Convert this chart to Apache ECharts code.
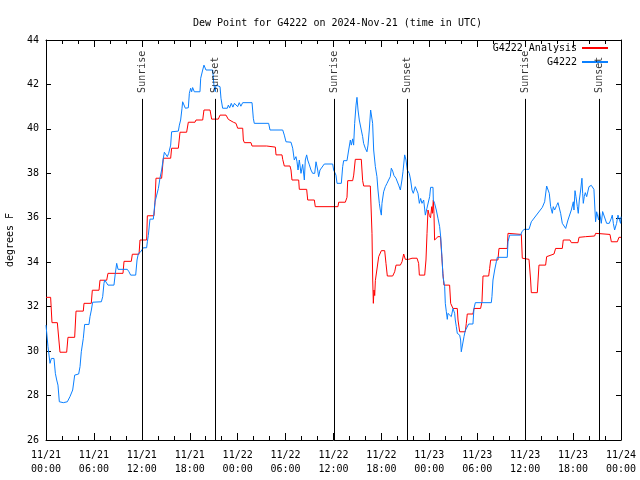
<!DOCTYPE html>
<html>
<head>
<meta charset="utf-8">
<script src="https://cdn.jsdelivr.net/npm/echarts@6/dist/echarts.min.js"></script>
<style>html,body{margin:0;padding:0;background:#fff;}#c{width:640px;height:480px;}</style>
</head>
<body>
<div id="c"></div>
<script>
// Hours since 2024-11-21 00:00 UTC
const tickDates = ['11/21','11/21','11/21','11/21','11/22','11/22','11/22','11/22','11/23','11/23','11/23','11/23','11/24'];
const tickTimes = ['00:00','06:00','12:00','18:00','00:00','06:00','12:00','18:00','00:00','06:00','12:00','18:00','00:00'];

const analysisHours = [0,0.58,0.75,1.42,1.75,2.59,2.75,3.59,3.76,4.67,4.76,5.67,5.8,6.64,6.76,7.6,7.76,9.64,9.77,10.68,10.81,11.65,11.77,12.6,12.69,13.52,13.65,13.77,14.48,14.69,15.61,15.73,16.57,16.78,17.61,17.82,18.66,18.78,19.62,19.78,20.54,20.74,21.58,21.79,22.54,22.83,23.46,23.79,24.0,24.63,24.71,24.84,25.67,25.8,27.63,27.76,28.72,28.8,29.55,29.64,29.84,30.55,30.68,30.8,31.64,31.72,32.64,32.77,33.6,33.72,36.56,36.65,37.48,37.69,37.78,38.4,38.53,38.73,39.48,39.65,39.78,40.61,40.82,40.91,40.99,41.07,41.16,41.24,41.45,41.66,41.99,42.41,42.57,42.74,43.41,43.66,43.83,44.37,44.58,44.79,44.99,45.41,45.83,46.46,46.66,46.75,47.42,47.58,47.71,47.83,48.0,48.15,48.3,48.38,48.5,48.58,48.66,48.75,49.08,49.4,49.58,49.7,49.83,50.54,50.67,50.96,51.5,51.59,51.8,52.5,52.63,52.75,53.46,53.59,54.42,54.59,54.72,55.43,55.55,55.68,56.59,56.72,57.76,57.85,59.52,59.64,60.48,60.68,60.77,61.52,61.73,62.56,62.69,63.61,63.81,64.65,64.77,65.61,65.78,66.61,66.74,67.57,68.7,68.82,70.62,70.79,71.54,71.74,72];
const analysisValues = [32.42,32.42,31.28,31.28,29.95,29.95,30.62,30.62,31.8,31.8,32.15,32.15,32.74,32.74,33.19,33.19,33.5,33.5,34.04,34.04,34.36,34.36,35.0,35.0,36.09,36.09,36.7,37.78,37.78,38.68,38.68,39.13,39.13,39.85,39.85,40.3,40.3,40.4,40.4,40.85,40.85,40.44,40.44,40.62,40.62,40.43,40.3,40.25,40.03,40.03,39.5,39.38,39.38,39.23,39.23,39.18,39.18,38.83,38.83,38.63,38.33,38.33,38.15,37.7,37.7,37.28,37.28,36.8,36.8,36.5,36.5,36.7,36.7,36.92,37.67,37.67,37.92,38.63,38.63,37.67,37.43,37.43,35.3,33.2,32.15,32.75,32.5,33.17,33.17,34.25,34.52,34.52,33.95,33.38,33.38,33.57,33.87,33.87,34.02,34.37,34.13,34.13,34.18,34.18,33.95,33.42,33.42,34.1,35.3,36.35,36.1,36.0,36.5,36.2,36.8,36.2,35.0,34.92,35.15,35.15,34.15,33.5,32.97,32.97,32.15,31.92,31.92,31.4,30.87,30.87,31.25,31.67,31.67,31.92,31.92,32.22,33.38,33.38,33.72,34.1,34.1,34.62,34.62,35.3,35.25,34.18,34.13,33.2,32.63,32.63,33.87,33.87,34.25,34.37,34.62,34.62,35.0,35.0,34.88,34.88,35.12,35.15,35.18,35.3,35.25,34.92,34.92,35.12,35.12];

const stationHours = [0,0.25,0.5,0.67,1.0,1.17,1.34,1.5,1.67,2.17,2.67,3.0,3.34,3.51,3.59,4.09,4.26,4.42,4.67,4.84,5.38,5.51,5.68,5.84,6.93,7.1,7.26,7.35,7.6,7.76,8.51,8.68,8.85,9.02,10.18,10.39,10.6,11.23,11.4,11.57,11.86,12.19,12.6,12.69,12.81,13.02,13.44,13.65,13.86,14.07,14.27,14.48,14.69,14.82,15.03,15.19,15.36,15.61,15.73,16.57,16.7,16.86,17.03,17.11,17.28,17.45,17.82,17.95,18.11,18.24,18.36,18.57,19.28,19.37,19.62,19.78,20.03,20.87,21.03,21.2,21.28,21.79,21.91,22.12,22.71,22.83,23.0,23.2,23.4,23.6,23.79,24.0,24.2,24.4,24.63,25.8,25.96,26.08,27.88,28.05,29.64,29.84,30.05,30.68,30.89,31.09,31.3,31.43,31.56,31.72,31.93,32.14,32.35,32.47,32.64,32.77,32.98,33.18,33.39,33.65,33.81,34.02,34.14,34.31,34.56,34.85,35.9,36.02,36.31,36.44,36.98,37.15,37.27,37.69,37.9,38.11,38.23,38.4,38.52,38.65,38.82,38.94,39.07,39.23,39.48,39.65,39.77,39.98,40.19,40.32,40.48,40.65,40.73,40.9,41.03,41.24,41.44,41.57,41.74,41.86,41.99,42.07,42.28,42.49,42.7,42.9,43.11,43.24,43.41,43.57,43.82,44.16,44.37,44.57,44.7,44.91,45.08,45.24,45.49,45.66,45.83,45.99,46.24,46.45,46.58,46.75,46.91,47.08,47.29,47.5,47.7,47.91,48.04,48.16,48.46,48.5,48.66,48.87,49.08,49.29,49.42,49.58,49.71,49.92,50.0,50.13,50.25,50.33,50.54,50.75,50.96,51.17,51.25,51.38,51.5,51.67,51.8,51.92,52.0,52.21,52.34,52.5,52.75,52.92,53.46,53.59,53.76,55.76,55.84,55.97,56.18,56.39,56.51,57.76,57.85,58.06,59.43,59.6,59.85,60.48,60.6,60.77,62.15,62.27,62.44,62.69,62.85,63.02,63.19,63.4,63.52,63.69,63.94,64.11,64.23,64.44,64.65,64.86,65.07,65.19,65.36,65.61,65.78,65.94,66.03,66.11,66.24,66.36,66.53,66.65,66.78,66.95,67.11,67.2,67.28,67.4,67.53,67.7,67.99,68.28,68.45,68.61,68.74,68.82,68.95,69.03,69.2,69.32,69.53,69.7,69.78,69.95,70.2,70.53,70.62,70.79,70.91,71.04,71.2,71.33,71.45,71.62,71.74,71.95,72];
const stationValues = [31.17,30.2,29.45,29.67,29.67,29.0,28.7,28.47,27.72,27.68,27.72,27.95,28.25,28.7,28.92,28.97,29.3,29.97,30.57,31.2,31.2,31.55,31.85,32.2,32.22,32.45,33.05,33.2,33.2,32.97,32.97,33.5,33.95,33.68,33.68,33.57,33.42,33.42,34.1,34.4,34.47,34.65,34.65,34.92,35.2,35.94,35.94,36.72,37.02,37.32,37.78,38.15,38.68,38.95,38.95,38.75,38.9,39.27,39.87,39.9,40.17,40.4,40.93,41.22,41.18,40.93,40.95,41.6,41.83,41.67,41.86,41.67,41.67,42.28,42.65,42.87,42.65,42.65,41.97,41.67,41.97,41.9,41.38,40.93,40.93,41.07,40.95,41.15,40.98,41.15,41.15,41.0,41.18,41.02,41.18,41.18,40.48,40.25,40.25,39.95,39.95,39.72,39.42,39.4,39.13,38.6,38.75,38.52,38.15,38.6,38.0,38.4,37.7,38.6,38.83,38.6,38.38,38.15,38.0,38.0,38.52,38.15,37.85,38.15,38.15,38.42,38.42,38.15,37.92,37.55,37.55,38.3,38.57,38.57,39.05,39.5,39.27,39.55,39.27,40.25,41.07,41.42,40.85,40.4,39.95,39.65,39.35,39.13,38.97,39.27,39.95,40.85,40.88,40.25,39.05,38.3,37.85,37.25,36.65,36.35,36.12,36.65,37.17,37.4,37.55,37.7,37.85,38.23,38.1,37.9,37.78,37.47,37.25,37.7,38.07,38.83,38.6,38.15,38.0,37.7,37.25,37.1,37.4,37.47,37.1,36.65,36.87,36.65,36.8,36.12,36.43,36.35,36.95,37.37,37.37,36.8,36.65,36.35,35.98,35.6,35.15,34.25,33.35,32.9,32.15,31.77,31.43,31.7,31.7,31.55,31.92,31.7,31.4,31.1,30.8,30.88,30.72,30.5,29.97,29.97,30.65,30.92,30.97,31.22,31.22,31.92,32.18,32.18,32.45,33.2,33.65,34.02,34.22,34.22,34.92,35.22,35.22,35.37,35.48,35.48,35.48,35.82,36.47,36.47,36.72,37.43,37.43,37.1,36.5,36.2,36.5,36.35,36.55,36.68,36.68,36.2,35.75,35.68,35.52,35.45,35.9,35.98,36.35,36.35,36.72,36.35,37.22,36.95,36.5,36.2,36.8,37.25,37.78,37.1,36.65,36.95,37.13,36.95,37.4,37.46,37.43,37.28,36.35,35.82,36.27,36.27,35.9,36.27,35.75,36.28,36.35,36.2,35.75,35.75,35.72,35.98,36.12,35.75,35.45,35.45,35.75,36.12,36.12,35.75,36.05,35.95];

const sunEventHours = [12.1, 21.25, 36.15, 45.29, 60.07, 69.33];
const sunEventNames = ['Sunrise','Sunset','Sunrise','Sunset','Sunrise','Sunset'];
const sunLineTop = 41.35;

const FONT = 'DejaVu Sans Mono';
const zip = (a, b) => a.map((v, i) => [v, b[i]]);

const chart = echarts.init(document.getElementById('c'), null, {renderer: 'canvas'});

const baseX = {
  type: 'value', min: 0, max: 72, interval: 6,
  axisLine: {show: true, onZero: false, lineStyle: {color: '#000', width: 1}},
  axisTick: {show: true, inside: true, length: 7, lineStyle: {color: '#000'}},
  minorTick: {show: true, splitNumber: 3, length: 4, lineStyle: {color: '#000'}},
  splitLine: {show: false}, minorSplitLine: {show: false}
};
const baseY = {
  type: 'value', min: 26, max: 44, interval: 2,
  axisLine: {show: true, onZero: false, lineStyle: {color: '#000', width: 1}},
  axisTick: {show: true, inside: true, length: 5, lineStyle: {color: '#000'}},
  splitLine: {show: false}
};

chart.setOption({
  animation: false,
  backgroundColor: '#fff',
  textStyle: {fontFamily: FONT},
  title: {
    text: 'Dew Point for G4222 on 2024-Nov-21 (time in UTC)',
    left: 188, top: 13,
    textStyle: {fontFamily: FONT, fontSize: 10, fontWeight: 'normal', color: '#000'}
  },
  legend: {
    data: ['G4222 Analysis', 'G4222'],
    orient: 'vertical', align: 'right', right: 26, top: 38,
    itemWidth: 26, itemHeight: 12, itemGap: 4,
    itemStyle: {opacity: 0, borderWidth: 0},
    textStyle: {fontFamily: FONT, fontSize: 10, color: '#000'}
  },
  grid: {left: 46, right: 19, top: 40, bottom: 40, containLabel: false, outerBoundsMode: 'none'},
  xAxis: [
    Object.assign({}, baseX, {
      position: 'bottom',
      axisLabel: {
        margin: 8, color: '#000', fontFamily: FONT, fontSize: 10, lineHeight: 14,
        formatter: v => { const i = Math.round(v / 6); return tickDates[i] + '\n' + tickTimes[i]; }
      }
    }),
    Object.assign({}, baseX, {position: 'top', axisLabel: {show: false}})
  ],
  yAxis: [
    Object.assign({}, baseY, {
      position: 'left',
      name: 'degrees F', nameLocation: 'middle', nameGap: 31, nameRotate: 90,
      nameTextStyle: {fontFamily: FONT, fontSize: 10, color: '#000'},
      axisLabel: {margin: 7, color: '#000', fontFamily: FONT, fontSize: 10}
    }),
    Object.assign({}, baseY, {position: 'right', axisLabel: {show: false}})
  ],
  series: [
    {
      name: 'G4222 Analysis', type: 'line', symbol: 'none',
      data: zip(analysisHours, analysisValues),
      lineStyle: {color: '#ff0000', width: 1}, itemStyle: {color: '#ff0000'},
      z: 3,
      markLine: {
        silent: true, symbol: 'none', animation: false,
        label: {show: false},
        lineStyle: {color: '#000', width: 1, type: 'solid'},
        data: sunEventHours.map(h => [{coord: [h, 26]}, {coord: [h, sunLineTop]}])
      }
    },
    {
      name: 'G4222', type: 'line', symbol: 'none',
      data: zip(stationHours, stationValues),
      lineStyle: {color: '#0a80ff', width: 1}, itemStyle: {color: '#0a80ff'},
      z: 4
    },
    {
      name: 'sun', type: 'scatter', symbolSize: 0, silent: true, z: 5,
      data: sunEventHours.map((h, i) => [h, sunLineTop, sunEventNames[i]]),
      label: {
        show: true, position: 'top', distance: 6, rotate: 90,
        align: 'left', verticalAlign: 'middle',
        formatter: p => p.data[2],
        color: '#000', fontFamily: FONT, fontSize: 10
      }
    }
  ]
});
</script>
</body>
</html>
